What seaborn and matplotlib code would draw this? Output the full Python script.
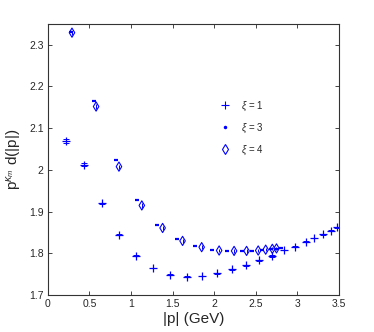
import numpy as np
import pandas as pd
import matplotlib
matplotlib.use("Agg")
import matplotlib.pyplot as plt
import seaborn as sns
from matplotlib.lines import Line2D

# xi = 1
p1 = [0.22, 0.43, 0.65, 0.855, 1.06, 1.27, 1.47, 1.67, 1.85, 2.04, 2.21, 2.38, 2.54,
      2.69, 2.84, 2.97, 3.10, 3.20, 3.31, 3.40, 3.48]
d1 = [2.069, 2.013, 1.920, 1.845, 1.795, 1.765, 1.749, 1.744, 1.746, 1.752, 1.762, 1.772,
      1.784, 1.794, 1.808, 1.816, 1.828, 1.837, 1.846, 1.854, 1.863]
e1 = [0.005, 0.003, 0.002, 0.002, 0.002, 0.001, 0.001, 0.001, 0.001, 0.001, 0.001, 0.001,
      0.001, 0.002, 0.001, 0.001, 0.001, 0.001, 0.001, 0.001, 0.001]

# xi = 3
p3 = [0.28, 0.55, 0.82, 1.07, 1.31, 1.55, 1.77, 1.97, 2.16, 2.33, 2.46, 2.58, 2.68, 2.76, 2.80]
d3 = [2.331, 2.166, 2.024, 1.929, 1.869, 1.835, 1.818, 1.808, 1.806, 1.805, 1.806, 1.808,
      1.810, 1.811, 1.812]

# xi = 4
p4 = [0.29, 0.58, 0.855, 1.13, 1.38, 1.62, 1.85, 2.06, 2.24, 2.39, 2.53, 2.62, 2.70, 2.75]
d4 = [2.329, 2.152, 2.008, 1.915, 1.861, 1.830, 1.815, 1.807, 1.806, 1.806, 1.807, 1.809,
      1.811, 1.812]
e4 = [0.005, 0.005, 0.005, 0.005, 0.005, 0.004, 0.004, 0.004, 0.004, 0.004, 0.004, 0.004,
      0.004, 0.004]

labels = [r'$\xi$ = 1', r'$\xi$ = 3', r'$\xi$ = 4']
xticks = ['0', '0.5', '1', '1.5', '2', '2.5', '3', '3.5']
yticks = ['1.7', '1.8', '1.9', '2', '2.1', '2.2', '2.3']

sns.set_style('ticks')
plt.rcParams['font.family'] = ['Liberation Sans', 'DejaVu Sans']
plt.rcParams['mathtext.fontset'] = 'custom'
plt.rcParams['mathtext.rm'] = 'Liberation Sans'
plt.rcParams['mathtext.it'] = 'Liberation Sans:italic'

blue = (0, 0, 1)
fig = plt.figure(figsize=(3.74, 3.32), dpi=100)
ax = fig.add_axes([0.128, 0.111, 0.778, 0.817])

ax.errorbar(p1, d1, yerr=e1, fmt='none', ecolor=blue, elinewidth=0.7, capsize=2, capthick=0.7)
ax.errorbar(p4, d4, yerr=e4, fmt='none', ecolor=blue, elinewidth=0.7, capsize=0)

sns.scatterplot(x=p1, y=d1, marker='+', color=blue, s=40, linewidth=0.9, ax=ax)
sns.scatterplot(x=p3, y=d3, marker='_', color=blue, s=12, linewidth=1.6, ax=ax)
sns.scatterplot(x=p4, y=d4, marker='d', facecolor='none', edgecolor=blue, s=22,
                linewidth=0.8, ax=ax)

ax.set_xlim(0, 3.5)
ax.set_ylim(1.7, 2.35)
ax.set_xticks(np.arange(0, 3.51, 0.5))
ax.set_xticklabels(xticks)
ax.set_yticks([1.7, 1.8, 1.9, 2.0, 2.1, 2.2, 2.3])
ax.set_yticklabels(yticks)
ax.tick_params(direction='in', top=True, right=True, labelsize=7.5, length=3, width=0.6,
               pad=3)
for s in ax.spines.values():
    s.set_linewidth(0.8)
    s.set_color('#333333')

ax.set_xlabel('|p| (GeV)', fontsize=11, labelpad=2)
ax.set_ylabel(r'p$^{\kappa_m}$ d(|p|)', fontsize=11, labelpad=4)

handles = [
    Line2D([], [], ls='none', marker='+', color=blue, ms=6, mew=0.8),
    Line2D([], [], ls='none', marker='.', color=blue, ms=3),
    Line2D([], [], ls='none', marker='d', mfc='none', mec=blue, ms=5, mew=0.8),
]
ax.legend(handles, labels, frameon=False, loc='center left', bbox_to_anchor=(0.56, 0.615),
          fontsize=7, handlelength=1.2, handletextpad=1.0, labelspacing=0.9)

plt.savefig('out.png', dpi=100)
